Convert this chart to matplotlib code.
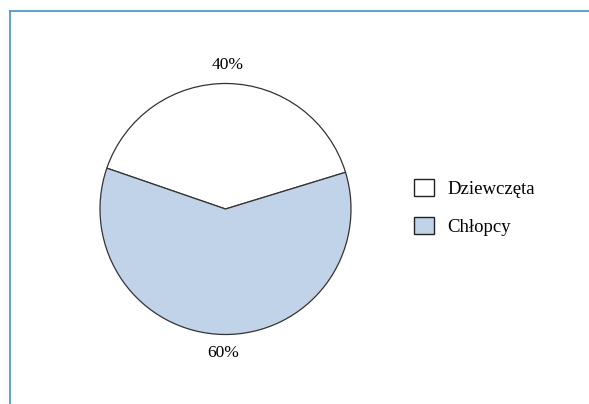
import matplotlib
matplotlib.use("Agg")
import matplotlib.pyplot as plt
from matplotlib.lines import Line2D

plt.rcParams["font.family"] = ["Liberation Serif", "DejaVu Serif"]

labels = ["Dziewczęta", "Chłopcy"]
shares = [40, 60]
colors = ["white", "#c1d3e8"]

W, H = 589, 404
fig = plt.figure(figsize=(W / 100, H / 100), dpi=100)
ax = fig.add_axes([0, 0, 1, 1])

# pie in pixel coordinates (y measured from bottom)
wedges, texts, autotexts = ax.pie(
    shares,
    colors=colors,
    startangle=17,
    center=(225.5, H - 209),
    radius=125.5,
    autopct="%d%%",
    pctdistance=1.15,
    wedgeprops=dict(edgecolor="#333333", linewidth=0.9),
    textprops=dict(fontsize=12.5),
    frame=True,
)
ax.set_xlim(0, W)
ax.set_ylim(0, H)
ax.set_aspect("equal")
ax.axis("off")

leg = fig.legend(
    wedges,
    labels,
    loc="upper left",
    bbox_to_anchor=(397 / W, 1 - 162 / H),
    frameon=False,
    fontsize=13.5,
    handlelength=1.05,
    handleheight=1.05,
    handletextpad=0.75,
    labelspacing=1.0,
)
for h in leg.legend_handles:
    h.set_edgecolor("#222222")
    h.set_linewidth(1.0)

# blue frame lines on top and left
fig.add_artist(Line2D([10 / W, 1], [1 - 11 / H, 1 - 11 / H], color="#4f9bd0", lw=1.3))
fig.add_artist(Line2D([10 / W, 10 / W], [0, 1 - 11 / H], color="#4f9bd0", lw=1.3))

fig.savefig("out.png", dpi=100)
